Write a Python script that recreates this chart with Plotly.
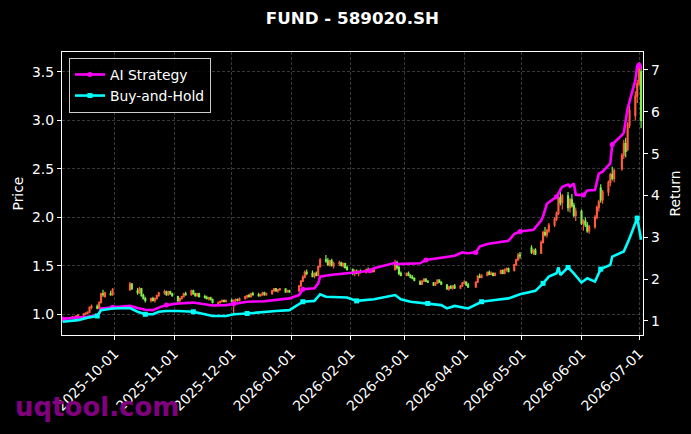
import pandas as pd
import plotly.graph_objects as go

# ---------------- data ----------------
holidays = ['2025-10-01', '2025-10-02', '2025-10-03', '2025-10-06', '2025-10-07', '2025-10-08',
            '2026-01-01', '2026-01-02', '2026-02-16', '2026-02-17', '2026-02-18', '2026-02-19',
            '2026-02-20', '2026-02-23', '2026-04-06', '2026-05-01', '2026-05-04', '2026-05-05',
            '2026-06-19']
trade_days = [d.strftime('%Y-%m-%d') for d in pd.bdate_range('2025-09-04', '2026-07-02')
              if d.strftime('%Y-%m-%d') not in holidays]

opens = [
    .95, .95, .96, .96, .97, .97, .98, .99, 1.00, 1.01, 1.02, 1.07, 1.08, 1.06, 1.12, 1.21, 1.18, 1.21, 1.20,
    1.25, 1.31, 1.24, 1.22, 1.26, 1.19, 1.16, 1.14, 1.16, 1.14, 1.16, 1.19, 1.22, 1.23, 1.20, 1.23, 1.21,
    1.18, 1.14, 1.16, 1.18, 1.21, 1.20, 1.24, 1.21, 1.19, 1.21, 1.18, 1.17, 1.16, 1.17, 1.15, 1.11, 1.12, 1.13, 1.14, 1.13,
    1.14, 1.13, 1.14, 1.15, 1.14, 1.16, 1.18, 1.19, 1.18, 1.21, 1.20, 1.19, 1.20, 1.22, 1.20, 1.21, 1.24, 1.26, 1.24, 1.25, 1.26, 1.23, 1.24,
    1.24, 1.29, 1.34, 1.38, 1.43, 1.42, 1.39, 1.42, 1.40, 1.49, 1.56, 1.55, 1.51, 1.55, 1.50, 1.52, 1.53, 1.50, 1.52, 1.48,
    1.46, 1.42, 1.44, 1.42, 1.44, 1.43, 1.46, 1.45, 1.46, 1.44, 1.46, 1.53, 1.48, 1.42,
    1.40, 1.42, 1.40, 1.38, 1.37, 1.33, 1.31, 1.34, 1.36, 1.34, 1.32, 1.30, 1.32, 1.35, 1.33, 1.30, 1.26, 1.28, 1.27, 1.29, 1.27, 1.29,
    1.32, 1.33, 1.30, 1.28, 1.33, 1.39, 1.38, 1.40, 1.43, 1.41, 1.42, 1.40, 1.42, 1.45, 1.42, 1.46, 1.47, 1.45, 1.51, 1.56, 1.61,
    1.68, 1.64, 1.66, 1.63, 1.74, 1.84, 1.82, 1.86, 1.92, 1.98, 2.04, 2.20, 2.15, 2.22, 2.10, 2.18, 2.12, 2.02,
    2.06, 1.94, 1.96, 1.92, 1.86, 1.90, 2.00, 2.10, 2.30, 2.18, 2.26, 2.36, 2.44, 2.40, 2.50, 2.64, 2.76, 2.70, 2.95, 3.05, 3.25, 3.38, 3.50,
]
highs = [
    .96, .97, .97, .98, .98, .99, 1.00, 1.01, 1.02, 1.03, 1.08, 1.10, 1.10, 1.13, 1.22, 1.25, 1.23, 1.24, 1.27,
    1.33, 1.32, 1.27, 1.28, 1.27, 1.21, 1.18, 1.17, 1.18, 1.17, 1.20, 1.23, 1.25, 1.24, 1.24, 1.24, 1.22,
    1.19, 1.17, 1.19, 1.22, 1.23, 1.25, 1.25, 1.22, 1.22, 1.22, 1.20, 1.19, 1.18, 1.18, 1.16, 1.13, 1.14, 1.15, 1.15, 1.15,
    1.16, 1.15, 1.16, 1.16, 1.17, 1.19, 1.20, 1.21, 1.22, 1.23, 1.22, 1.21, 1.23, 1.23, 1.22, 1.25, 1.27, 1.27, 1.26, 1.27, 1.26, 1.25, 1.25,
    1.30, 1.35, 1.40, 1.45, 1.46, 1.45, 1.43, 1.44, 1.50, 1.58, 1.61, 1.58, 1.56, 1.57, 1.54, 1.55, 1.54, 1.53, 1.53, 1.50,
    1.47, 1.46, 1.46, 1.45, 1.46, 1.47, 1.48, 1.47, 1.47, 1.47, 1.56, 1.55, 1.50, 1.44,
    1.43, 1.44, 1.41, 1.40, 1.38, 1.35, 1.35, 1.37, 1.37, 1.35, 1.33, 1.33, 1.36, 1.36, 1.34, 1.31, 1.29, 1.30, 1.30, 1.31, 1.30, 1.33,
    1.35, 1.34, 1.32, 1.34, 1.40, 1.42, 1.41, 1.44, 1.45, 1.44, 1.43, 1.43, 1.46, 1.46, 1.47, 1.48, 1.48, 1.52, 1.57, 1.63, 1.64,
    1.71, 1.67, 1.68, 1.76, 1.86, 1.90, 1.88, 1.94, 2.00, 2.06, 2.22, 2.30, 2.24, 2.26, 2.20, 2.24, 2.15, 2.10,
    2.08, 1.98, 2.00, 1.95, 1.92, 2.02, 2.12, 2.18, 2.34, 2.28, 2.38, 2.46, 2.52, 2.50, 2.66, 2.80, 2.82, 2.98, 3.15, 3.30, 3.42, 3.60, 3.57,
]
lows = [
    .94, .94, .95, .95, .96, .96, .97, .98, .99, 1.00, 1.01, 1.05, 1.05, 1.05, 1.11, 1.18, 1.17, 1.19, 1.19,
    1.24, 1.25, 1.20, 1.21, 1.18, 1.15, 1.12, 1.12, 1.13, 1.12, 1.15, 1.18, 1.20, 1.19, 1.19, 1.20, 1.18,
    1.12, 1.12, 1.15, 1.17, 1.19, 1.19, 1.20, 1.18, 1.18, 1.17, 1.16, 1.15, 1.14, 1.14, 1.11, 1.09, 1.11, 1.12, 1.12, 1.12,
    1.12, 1.01, 1.12, 1.13, 1.13, 1.15, 1.16, 1.17, 1.17, 1.19, 1.18, 1.18, 1.19, 1.19, 1.19, 1.20, 1.23, 1.23, 1.22, 1.24, 1.22, 1.22, 1.22,
    1.23, 1.28, 1.33, 1.37, 1.40, 1.38, 1.37, 1.39, 1.39, 1.48, 1.53, 1.50, 1.49, 1.49, 1.47, 1.50, 1.49, 1.48, 1.47, 1.45,
    1.40, 1.39, 1.41, 1.39, 1.42, 1.42, 1.44, 1.43, 1.43, 1.43, 1.45, 1.46, 1.40, 1.39,
    1.39, 1.39, 1.37, 1.36, 1.34, 1.30, 1.30, 1.33, 1.33, 1.32, 1.29, 1.29, 1.31, 1.32, 1.30, 1.25, 1.24, 1.26, 1.25, 1.26, 1.26, 1.28,
    1.31, 1.29, 1.27, 1.27, 1.32, 1.37, 1.37, 1.39, 1.40, 1.40, 1.39, 1.39, 1.41, 1.41, 1.41, 1.44, 1.43, 1.44, 1.50, 1.55, 1.57,
    1.62, 1.61, 1.61, 1.62, 1.73, 1.80, 1.79, 1.84, 1.90, 1.96, 2.02, 2.12, 2.08, 2.06, 2.05, 2.10, 2.00, 1.96,
    1.92, 1.86, 1.90, 1.84, 1.83, 1.88, 1.98, 2.06, 2.15, 2.14, 2.22, 2.32, 2.38, 2.36, 2.48, 2.60, 2.62, 2.68, 2.92, 3.00, 3.18, 3.35, 2.92,
]
closes = [
    .95, .96, .96, .97, .97, .98, .99, 1.00, 1.01, 1.02, 1.07, 1.08, 1.06, 1.12, 1.21, 1.20, 1.22, 1.20, 1.25,
    1.31, 1.26, 1.22, 1.26, 1.19, 1.16, 1.14, 1.16, 1.14, 1.16, 1.19, 1.22, 1.23, 1.20, 1.23, 1.21, 1.19,
    1.14, 1.16, 1.18, 1.21, 1.20, 1.24, 1.21, 1.19, 1.21, 1.18, 1.17, 1.16, 1.17, 1.15, 1.12, 1.12, 1.13, 1.14, 1.13, 1.14,
    1.13, 1.14, 1.15, 1.14, 1.16, 1.18, 1.19, 1.18, 1.21, 1.20, 1.19, 1.20, 1.22, 1.20, 1.21, 1.24, 1.26, 1.24, 1.25, 1.26, 1.23, 1.24, 1.23,
    1.29, 1.34, 1.38, 1.43, 1.42, 1.39, 1.42, 1.40, 1.49, 1.56, 1.55, 1.51, 1.55, 1.50, 1.52, 1.53, 1.50, 1.52, 1.48, 1.46,
    1.42, 1.44, 1.42, 1.44, 1.43, 1.46, 1.45, 1.46, 1.44, 1.46, 1.53, 1.48, 1.42, 1.40,
    1.42, 1.40, 1.38, 1.37, 1.35, 1.31, 1.34, 1.36, 1.34, 1.33, 1.30, 1.32, 1.35, 1.33, 1.31, 1.26, 1.28, 1.27, 1.29, 1.27, 1.29, 1.32,
    1.33, 1.30, 1.28, 1.33, 1.39, 1.38, 1.40, 1.43, 1.41, 1.42, 1.40, 1.42, 1.45, 1.42, 1.46, 1.47, 1.44, 1.51, 1.56, 1.61, 1.60,
    1.64, 1.66, 1.62, 1.74, 1.84, 1.82, 1.86, 1.92, 1.98, 2.04, 2.20, 2.15, 2.22, 2.10, 2.18, 2.12, 2.02, 2.06,
    1.94, 1.96, 1.92, 1.86, 1.90, 2.00, 2.10, 2.16, 2.18, 2.26, 2.36, 2.44, 2.40, 2.48, 2.64, 2.76, 2.68, 2.95, 3.10, 3.25, 3.38, 3.55, 3.00,
]

ai_dates = ['2025-09-04', '2025-09-12', '2025-09-17', '2025-09-22', '2025-09-23', '2025-09-24', '2025-09-30',
            '2025-10-09', '2025-10-13', '2025-10-17', '2025-10-21', '2025-10-24', '2025-10-28',
            '2025-11-03', '2025-11-11', '2025-11-17', '2025-11-21', '2025-11-28',
            '2025-12-02', '2025-12-09', '2025-12-18', '2025-12-24', '2025-12-31',
            '2026-01-05', '2026-01-07', '2026-01-13', '2026-01-15', '2026-01-16', '2026-01-21', '2026-01-30',
            '2026-02-11', '2026-02-13', '2026-02-24', '2026-02-25',
            '2026-03-04', '2026-03-09', '2026-03-12', '2026-03-18', '2026-03-23', '2026-03-27', '2026-03-31',
            '2026-04-03', '2026-04-07', '2026-04-09', '2026-04-13', '2026-04-20', '2026-04-24', '2026-04-27', '2026-04-30',
            '2026-05-07', '2026-05-11', '2026-05-12', '2026-05-14', '2026-05-15', '2026-05-19', '2026-05-22',
            '2026-05-25', '2026-05-26', '2026-05-28', '2026-05-29',
            '2026-06-02', '2026-06-04', '2026-06-08', '2026-06-10', '2026-06-12', '2026-06-16', '2026-06-17',
            '2026-06-22', '2026-06-23', '2026-06-25', '2026-06-29', '2026-06-30', '2026-07-01', '2026-07-02']
ai_values = [1.05, 1.07, 1.10, 1.14, 1.18, 1.30, 1.33,
             1.36, 1.31, 1.27, 1.26, 1.32, 1.38,
             1.42, 1.44, 1.40, 1.37, 1.38,
             1.41, 1.46, 1.47, 1.50, 1.54,
             1.62, 1.76, 1.78, 1.90, 2.06, 2.10, 2.14,
             2.20, 2.26, 2.39, 2.36,
             2.38, 2.38, 2.46, 2.50, 2.52, 2.56, 2.64,
             2.62, 2.64, 2.78, 2.84, 2.88, 2.92, 3.08, 3.14,
             3.18, 3.40, 3.50, 3.80, 3.84, 3.97, 4.21,
             4.26, 4.21, 4.29, 4.02,
             4.01, 4.12, 4.13, 4.52, 4.57, 4.77, 5.22,
             5.44, 5.50, 6.08, 6.75, 7.10, 7.12, 7.02]

bh_dates = ['2025-09-04', '2025-09-12', '2025-09-17', '2025-09-22', '2025-09-24', '2025-09-30',
            '2025-10-09', '2025-10-13', '2025-10-17', '2025-10-21', '2025-10-24', '2025-10-28',
            '2025-11-03', '2025-11-11', '2025-11-17', '2025-11-21', '2025-11-28',
            '2025-12-02', '2025-12-09', '2025-12-18', '2025-12-24', '2025-12-31',
            '2026-01-05', '2026-01-07', '2026-01-13', '2026-01-16', '2026-01-19', '2026-01-30',
            '2026-02-04', '2026-02-13', '2026-02-24', '2026-02-27',
            '2026-03-04', '2026-03-13', '2026-03-20', '2026-03-23', '2026-03-27',
            '2026-04-03', '2026-04-10', '2026-04-17', '2026-04-24', '2026-04-30',
            '2026-05-08', '2026-05-12', '2026-05-15', '2026-05-19', '2026-05-20', '2026-05-21',
            '2026-05-25', '2026-05-28',
            '2026-06-01', '2026-06-04', '2026-06-08', '2026-06-11', '2026-06-16', '2026-06-17',
            '2026-06-23', '2026-06-26', '2026-06-30', '2026-07-02']
bh_values = [0.98, 1.02, 1.08, 1.12, 1.26, 1.30,
             1.31, 1.22, 1.16, 1.16, 1.22, 1.24,
             1.24, 1.22, 1.16, 1.12, 1.12,
             1.16, 1.18, 1.22, 1.24, 1.26,
             1.40, 1.46, 1.48, 1.64, 1.58, 1.56,
             1.48, 1.52, 1.62, 1.52,
             1.46, 1.42, 1.38, 1.30, 1.36,
             1.30, 1.46, 1.50, 1.54, 1.64,
             1.72, 1.90, 2.06, 2.14, 2.28, 2.10,
             2.28, 2.14,
             1.92, 2.02, 1.94, 2.24, 2.34, 2.54,
             2.66, 2.98, 3.46, 2.94]

# ---------------- figure ----------------
fig = go.Figure()
fig.add_trace(go.Candlestick(
    x=trade_days, open=opens, high=highs, low=lows, close=closes,
    increasing=dict(line=dict(color='#ff5a3c', width=1.2), fillcolor='#ff5a3c'),
    decreasing=dict(line=dict(color='#7ef04a', width=1.2), fillcolor='#7ef04a'),
    showlegend=False, hoverinfo='skip', yaxis='y'))
fig.add_trace(go.Scatter(
    x=ai_dates, y=ai_values, name='AI Strategy', mode='lines+markers', yaxis='y2',
    line=dict(color='#ff00ff', width=2.6),
    marker=dict(symbol='circle', size=5, color='#ff00ff', maxdisplayed=13)))
fig.add_trace(go.Scatter(
    x=bh_dates, y=bh_values, name='Buy-and-Hold', mode='lines+markers', yaxis='y2',
    line=dict(color='#00ffff', width=2.6),
    marker=dict(symbol='square', size=5, color='#00ffff', maxdisplayed=13)))

grid = dict(showgrid=True, gridcolor='rgba(140,140,140,0.4)', griddash='3px,2px', gridwidth=0.8)
axis_common = dict(showline=True, linecolor='white', linewidth=1.2, ticks='outside',
                   tickcolor='white', ticklen=4, tickfont=dict(color='white', size=13.9),
                   zeroline=False, automargin=False)

fig.update_layout(
    width=691, height=434,
    margin=dict(l=62, r=48, t=52, b=99),
    paper_bgcolor='black', plot_bgcolor='black',
    font=dict(family='DejaVu Sans', color='white', size=13.9),
    title=dict(text='<b>FUND - 589020.SH</b>', x=0.51, xanchor='center',
               y=1 - 18 / 434, yanchor='middle', font=dict(size=16.7, color='white')),
    legend=dict(x=0.012, y=0.979, xanchor='left', yanchor='top',
                bgcolor='rgba(0,0,0,0.85)', bordercolor='#cccccc', borderwidth=1,
                font=dict(size=13.9, color='white')),
    xaxis=dict(type='date', range=['2025-09-03 16:00', '2026-07-03 00:00'],
               rangeslider=dict(visible=False), mirror=True,
               tickformat='%Y-%m-%d', tick0='2025-10-01', dtick='M1', tickangle=-45,
               **grid, **axis_common),
    yaxis=dict(range=[0.784, 3.706], tick0=0, dtick=0.5, tickformat='.1f', mirror=True,
               **grid, **axis_common),
    yaxis2=dict(overlaying='y', side='right', range=[0.665, 7.43], tick0=0, dtick=1,
                showgrid=False, **axis_common),
    annotations=[
        dict(text='Price', xref='paper', yref='paper', x=(17 - 62) / 581, y=0.5,
             textangle=-90, showarrow=False, font=dict(size=13.9, color='white'),
             xanchor='center', yanchor='middle'),
        dict(text='Return', xref='paper', yref='paper', x=(674 - 62) / 581, y=0.5,
             textangle=-90, showarrow=False, font=dict(size=13.9, color='white'),
             xanchor='center', yanchor='middle'),
        dict(text='<b>uqtool.com</b>', xref='paper', yref='paper', x=(97 - 62) / 581,
             y=(335 - 407) / 283, showarrow=False, font=dict(size=26, color='#800080'),
             xanchor='center', yanchor='middle'),
    ],
)

fig.write_html('out.html')
